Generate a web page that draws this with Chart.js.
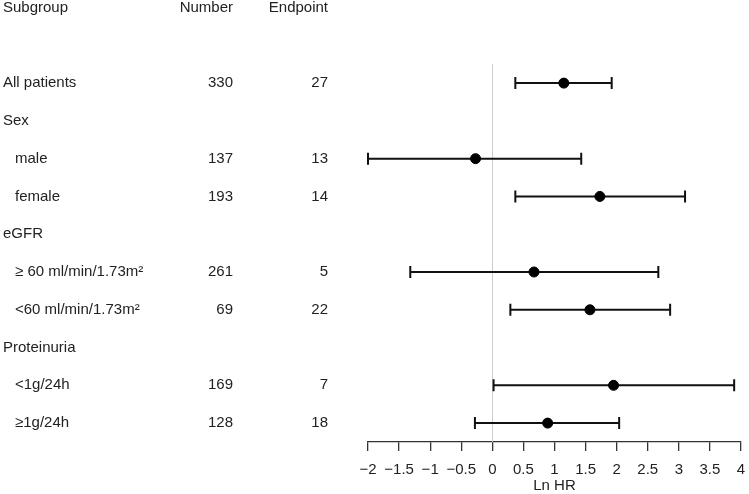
<!DOCTYPE html>
<html>
<head>
<meta charset="utf-8">
<script src="https://cdn.jsdelivr.net/npm/chart.js@4.4.1/dist/chart.umd.min.js"></script>
<style>
  html, body { margin: 0; padding: 0; background: #fff; }
</style>
</head>
<body>
<canvas id="forest" width="749" height="494"></canvas>
<script>
// table rows (after the header row and one empty row)
const subgroups = ['All patients', 'Sex', 'male', 'female', 'eGFR', '\u2265 60 ml/min/1.73m\u00b2', '<60 ml/min/1.73m\u00b2', 'Proteinuria', '<1g/24h', '\u22651g/24h'];
const levels = [0, 0, 1, 1, 0, 1, 1, 0, 1, 1];
const numbers = [330, null, 137, 193, null, 261, 69, null, 169, 128];
const endpoints = [27, null, 13, 14, null, 5, 22, null, 7, 18];
// Ln HR with 95% CI
const lnHR = [1.15, null, -0.27, 1.73, null, 0.67, 1.57, null, 1.95, 0.89];
const lower = [0.37, null, -2.0, 0.37, null, -1.32, 0.29, null, 0.02, -0.28];
const upper = [1.92, null, 1.43, 3.10, null, 2.67, 2.86, null, 3.89, 2.04];
const headers = ['Subgroup', 'Number', 'Endpoint'];
const xTicks = [-2, -1.5, -1, -0.5, 0, 0.5, 1, 1.5, 2, 2.5, 3, 3.5, 4];

const firstRow = 2; // row 0 = header, row 1 = blank
const textColor = '#222';
const family = '"Liberation Sans", Arial, sans-serif';
const font = '15px ' + family;

const points = [];
lnHR.forEach((v, i) => {
    if (v !== null) points.push({ x: v, y: i + firstRow });
});

const forestPlugin = {
    id: 'forest',
    beforeDatasetsDraw(chart) {
        const ctx = chart.ctx;
        const xs = chart.scales.x;
        const ys = chart.scales.y;
        // reference line at 0
        ctx.save();
        ctx.strokeStyle = '#cccccc';
        ctx.lineWidth = 1;
        ctx.beginPath();
        const x0 = Math.round(xs.getPixelForValue(0)) + 0.5;
        ctx.moveTo(x0, ys.getPixelForValue(firstRow - 0.5));
        ctx.lineTo(x0, chart.chartArea.bottom);
        ctx.stroke();
        // CI bars
        ctx.strokeStyle = '#111';
        ctx.lineWidth = 2;
        lower.forEach((lo, i) => {
            if (lo === null) return;
            const y = ys.getPixelForValue(i + firstRow);
            const a = xs.getPixelForValue(lo);
            const b = xs.getPixelForValue(upper[i]);
            ctx.beginPath();
            ctx.moveTo(a, y);
            ctx.lineTo(b, y);
            ctx.moveTo(a, y - 6);
            ctx.lineTo(a, y + 6);
            ctx.moveTo(b, y - 6);
            ctx.lineTo(b, y + 6);
            ctx.stroke();
        });
        ctx.restore();
    },
    afterDraw(chart) {
        const ctx = chart.ctx;
        const ys = chart.scales.y;
        ctx.save();
        ctx.font = font;
        ctx.fillStyle = textColor;
        ctx.textBaseline = 'middle';
        const yh = ys.getPixelForValue(0);
        ctx.textAlign = 'left';
        ctx.fillText(headers[0], 3, yh);
        ctx.textAlign = 'right';
        ctx.fillText(headers[1], 233, yh);
        ctx.fillText(headers[2], 328, yh);
        subgroups.forEach((name, i) => {
            const y = ys.getPixelForValue(i + firstRow);
            ctx.textAlign = 'left';
            ctx.fillText(name, levels[i] ? 15 : 3, y);
            ctx.textAlign = 'right';
            if (numbers[i] !== null) ctx.fillText(String(numbers[i]), 233, y);
            if (endpoints[i] !== null) ctx.fillText(String(endpoints[i]), 328, y);
        });
        ctx.restore();
    }
};

new Chart(document.getElementById('forest').getContext('2d'), {
    type: 'scatter',
    data: {
        datasets: [{
            data: points,
            backgroundColor: '#000',
            borderColor: '#000',
            pointRadius: 5,
            pointHoverRadius: 5
        }]
    },
    options: {
        responsive: false,
        animation: false,
        layout: { autoPadding: false, padding: { left: 368, right: 8, top: 0, bottom: 0 } },
        plugins: { legend: { display: false }, tooltip: { enabled: false } },
        scales: {
            x: {
                type: 'linear',
                min: -2,
                max: 4,
                afterBuildTicks: axis => { axis.ticks = xTicks.map(v => ({ value: v })); },
                afterFit: axis => {
                    axis.height = 52;
                    axis.paddingLeft = 0;
                    axis.paddingRight = 0;
                },
                ticks: {
                    autoSkip: false,
                    maxRotation: 0,
                    padding: 11,
                    color: textColor,
                    font: { family: family, size: 15, lineHeight: 1 },
                    callback: v => String(v).replace('-', '\u2212')
                },
                grid: { drawOnChartArea: false, tickLength: 9, color: '#333', lineWidth: 1.3 },
                border: { color: '#333', width: 1.3 },
                title: {
                    display: true,
                    text: 'Ln HR',
                    color: textColor,
                    font: { family: family, size: 15 },
                    padding: { top: 0, bottom: -1 }
                }
            },
            y: {
                type: 'linear',
                display: false,
                reverse: true,
                min: -0.2,
                max: 11.5
            }
        }
    },
    plugins: [forestPlugin]
});
</script>
</body>
</html>
